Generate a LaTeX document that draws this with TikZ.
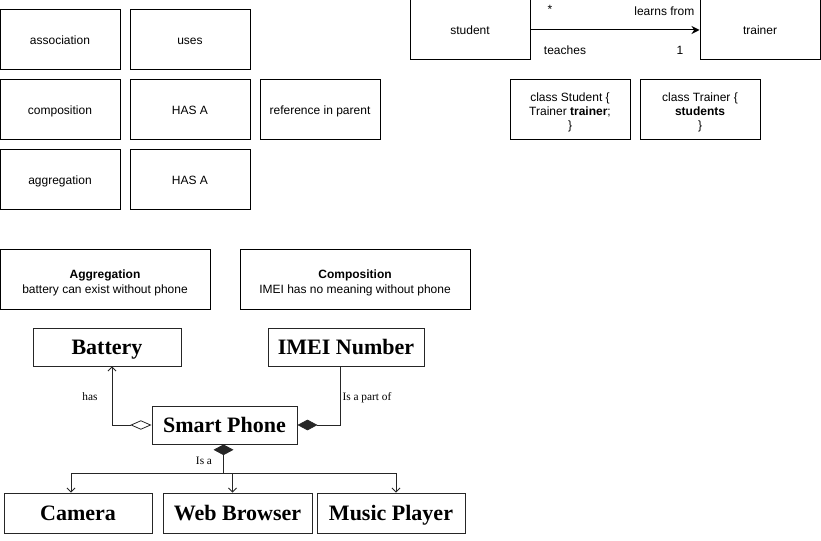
\documentclass[tikz,border=0pt]{standalone}
\usepackage{fontspec}
\setmainfont{Liberation Sans}
\newfontfamily\timesfont{Liberation Serif}
\usetikzlibrary{arrows.meta,positioning,calc,shapes}

\tikzset{
  box/.style={draw, line width=0.75pt, minimum width=90pt, minimum height=45pt, inner sep=0pt, align=center, font=\fontsize{9}{10.5}\selectfont, execute at begin node={\rule[-2.2pt]{0pt}{11.7pt}}},
  multi/.style={box, execute at begin node={\rule[-1pt]{0pt}{#1}}},
  note/.style={multi=23pt, minimum width=157.5pt, font=\fontsize{9}{11.25}\selectfont},
  part/.style={draw=black!85, line width=0.7pt, minimum height=28.5pt, inner sep=0pt, font=\timesfont\bfseries\fontsize{16.5}{18}\selectfont, execute at begin node={\rule[-3pt]{0pt}{17.7pt}}},
  lbl/.style={inner sep=1pt, font=\fontsize{9}{10.5}\selectfont},
  tlbl/.style={inner sep=1pt, font=\timesfont\fontsize{8.5}{10}\selectfont},
  link/.style={draw=black!85, line width=0.6pt},
}

\begin{document}
\begin{tikzpicture}[x=0.75pt,y=-0.75pt]
\useasboundingbox (0,0) rectangle (821,541);

% kinds of relation
\node[box] (assoc) at (60,40) {association};
\node[box] (uses) at (190,40) {uses};
\node[box] (compo) at (60,110) {composition};
\node[box] (hasa) at (190,110) {HAS A};
\node[box] (refparent) at (320,110) {reference in parent};
\node[box] (aggr) at (60,180) {aggregation};
\node[box] (hasb) at (190,180) {HAS A};

% student / trainer
\node[box] (student) at (470,30) {student};
\node[box] (trainer) at (760,30) {trainer};
\draw[line width=0.75pt,-{Stealth[length=6pt,width=6pt]}] (student) -- (trainer);
\node[lbl] (many) at (550,9) {*};
\node[lbl,anchor=east] (learns) at (696,11) {learns from};
\node[lbl] (teaches) at (565,50) {teaches};
\node[lbl] (one) at (680,50) {1};

\node[multi=32pt] (clsstudent) at (570,110) {class Student \{\\Trainer \textbf{trainer};\\\}};
\node[multi=32pt] (clstrainer) at (700,110) {class Trainer \{\\\textbf{students}\\\}};

% notes
\node[note] (aggnote) at (105,280) {\textbf{Aggregation}\\battery can exist without phone};
\node[note, minimum width=172.5pt] (compnote) at (355,280) {\textbf{Composition}\\IMEI has no meaning without phone};

% phone diagram
\node[part, minimum width=111pt] (battery) at (107,347) {Battery};
\node[part, minimum width=117pt] (imei) at (346,347) {IMEI Number};
\node[part, minimum width=108.75pt] (phone) at (224.5,425) {Smart Phone};
\node[part, minimum width=111pt, minimum height=30pt] (camera) at (78,513) {Camera};
\node[part, minimum width=111.75pt, minimum height=30pt] (browser) at (237.5,513) {Web Browser};
\node[part, minimum width=111pt, minimum height=30pt] (player) at (391,513) {Music Player};

\draw[link,{Diamond[open,length=16pt,width=7pt]}-{Straight Barb[length=3pt,width=6pt]}]
  (phone.west) -| ([xshift=3.75pt]battery.south);
\draw[link,{Diamond[length=15pt,width=8pt]}-] (phone.east) -| ([xshift=-4.5pt]imei.south);
\node[tlbl] (has) at (90,397) {has};
\node[tlbl,anchor=west] (partof) at (341,398) {Is a part of};

\coordinate (split) at ($(phone.south)+(-1,29)$);
\draw[link,{Diamond[length=8pt,width=15pt]}-] ([xshift=-0.75pt]phone.south) -- (split);
\draw[link,-{Straight Barb[length=3pt,width=6pt]}] (split) -| ([xshift=-5.25pt]camera.north);
\draw[link,-{Straight Barb[length=3pt,width=6pt]}] (split) -| ([xshift=-3.75pt]browser.north);
\draw[link,-{Straight Barb[length=3pt,width=6pt]}] (split) -| ([xshift=3.75pt]player.north);
\node[tlbl] (isa) at (204,461) {Is a};
\end{tikzpicture}
\end{document}
